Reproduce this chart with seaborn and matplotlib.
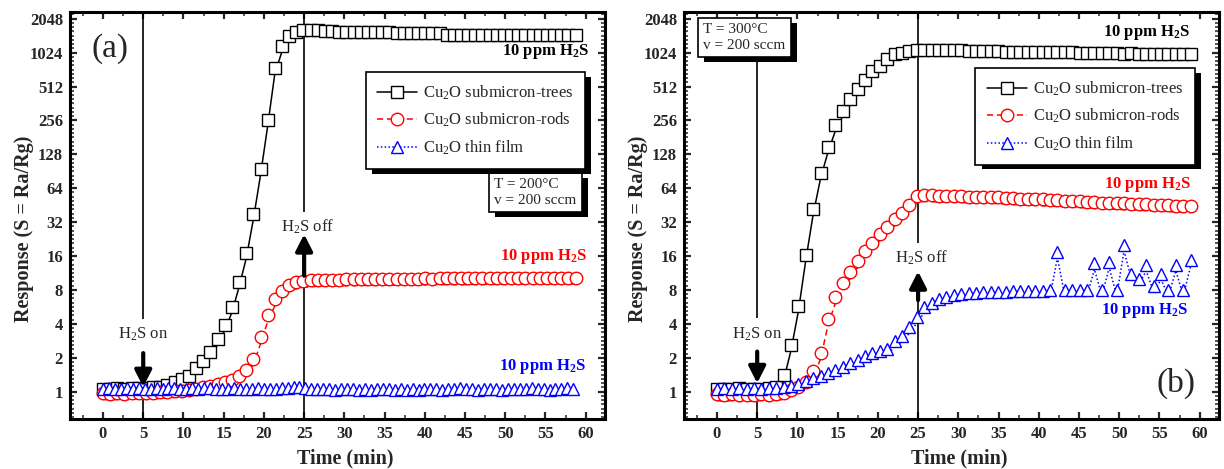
import matplotlib
matplotlib.use('Agg')
import matplotlib.pyplot as plt
import matplotlib.patheffects as pe
from matplotlib.lines import Line2D
from matplotlib.ticker import FixedLocator, FixedFormatter, MultipleLocator
from matplotlib.transforms import offset_copy
import numpy as np
import seaborn as sns

# sampling times (min)
time_a = np.arange(0, 59.0, 0.89)
time_film_a = np.arange(0, 59.0, 0.74)
time_b = np.arange(0, 59.5, 0.92)

# (a) T = 200 C
trees_a = [1.06, 1.05, 1.07, 1.06, 1.08, 1.07, 1.08, 1.09, 1.11,
           1.15, 1.21, 1.29, 1.38, 1.61, 1.89, 2.25, 2.93, 3.92, 5.66, 9.5, 17.1,
           38, 94, 256, 750, 1176, 1448, 1574, 1641, 1640, 1618,
           1590, 1580, 1575, 1575, 1570, 1570, 1565, 1565, 1560, 1555,
           1535, 1530, 1530, 1525, 1525, 1520, 1515,
           1475, 1470, 1470, 1468, 1470, 1466, 1468, 1465, 1465, 1462, 1465, 1460,
           1462, 1460, 1458, 1460, 1458, 1456, 1458]
rods_a = [0.97, 0.96, 0.97, 0.96, 0.97, 0.98, 0.97, 0.98, 0.99, 1.0, 1.01,
          1.02, 1.04, 1.06, 1.09, 1.13, 1.17, 1.23, 1.28, 1.39, 1.57, 1.97, 3.03,
          4.76, 6.59, 7.89, 8.88, 9.32, 9.58, 9.71,
          9.8, 9.85, 9.88, 9.9, 9.92, 9.95, 9.96, 9.98, 10.0, 10.0,
          10.05, 10.05, 10.08, 10.1, 10.1, 10.12, 10.1, 10.12, 10.15, 10.15, 10.12,
          10.15, 10.18, 10.15, 10.2, 10.18, 10.2, 10.22, 10.2, 10.25, 10.22, 10.25,
          10.28, 10.25, 10.3, 10.28, 10.3]
film_a = [1.06, 1.07, 1.05, 1.06, 1.08, 1.06, 1.07, 1.05, 1.06, 1.07,
          1.06, 1.08, 1.07, 1.06, 1.05, 1.07, 1.06, 1.08, 1.07, 1.06,
          1.05, 1.06, 1.07, 1.06, 1.05, 1.06, 1.07, 1.06, 1.05, 1.06,
          1.07, 1.08, 1.09, 1.10, 1.08, 1.06, 1.05, 1.06, 1.05, 1.04,
          1.05, 1.06, 1.05, 1.04, 1.05, 1.04, 1.05, 1.06, 1.05, 1.04,
          1.05, 1.04, 1.05, 1.04, 1.05, 1.06, 1.05, 1.04, 1.05, 1.06,
          1.07, 1.06, 1.05, 1.04, 1.05, 1.06, 1.05, 1.04, 1.05, 1.06,
          1.05, 1.06, 1.07, 1.06, 1.05, 1.04, 1.05, 1.06, 1.07, 1.06]

# (b) T = 300 C
trees_b = [1.05, 1.06, 1.05, 1.07, 1.06, 1.05, 1.06, 1.07,
           1.11, 1.41, 2.6, 5.8, 16.5, 42, 88, 150, 232, 313, 393, 488, 588, 700,
           781, 891, 996, 1024, 1060, 1082,
           1080, 1078, 1075, 1075, 1072, 1070, 1068, 1068, 1065, 1062, 1060,
           1040, 1040, 1038, 1038, 1036, 1036, 1035, 1035, 1034, 1034,
           1012, 1010, 1010, 1008, 1010, 1008, 1006, 1008, 1006, 1005, 1006, 1004,
           1005, 1004, 1003, 1004]
rods_b = [0.95, 0.93, 0.95, 0.93, 0.94, 0.93, 0.95, 0.93, 0.95, 0.97,
          1.04, 1.11, 1.23, 1.52, 2.22, 4.44, 6.96, 9.19, 11.5, 14.4, 17.8, 21.1,
          25.1, 29.2, 33.8, 38.9, 45.9, 54.2, 55.7,
          55.3, 55.0, 54.8, 54.6, 54.3, 54.0, 53.7, 53.5, 53.3, 53.2,
          52.5, 52.2, 51.8, 51.5, 51.2, 50.9, 50.5, 50.1, 49.8, 49.4, 49.0, 48.6,
          48.2, 47.8, 47.5, 47.2, 46.9, 46.6, 46.3, 46.0, 45.7, 45.4, 45.1, 44.8,
          44.5, 44.3]
film_b = [1.06, 1.07, 1.06, 1.07, 1.06, 1.07, 1.06, 1.07, 1.08,
          1.10, 1.13, 1.18, 1.25, 1.32, 1.39, 1.47, 1.57, 1.67, 1.79, 1.92, 2.06,
          2.2, 2.3, 2.38, 2.83, 3.14, 3.73, 4.59, 5.66, 6.15, 6.59, 6.96, 7.21,
          7.36, 7.46,
          7.57, 7.62, 7.67, 7.73, 7.73, 7.78, 7.84, 7.84, 7.89, 7.89,
          7.94, 17.5, 8.0, 8.0, 8.0, 8.0, 13.8, 8.0, 14.3, 8.0, 20.1, 11.2, 10.1,
          13.4, 8.6, 11.2, 8.0, 13.4, 8.0, 14.7]

series_names = ['Cu$_2$O submicron-trees', 'Cu$_2$O submicron-rods', 'Cu$_2$O thin film']
y_ticks = [1, 2, 4, 8, 16, 32, 64, 128, 256, 512, 1024, 2048]
x_ticks = [0, 5, 10, 15, 20, 25, 30, 35, 40, 45, 50, 55, 60]
gas_on, gas_off = 5, 25

styles = [
    dict(color='black', marker='s', ls='-', ms=8.0),
    dict(color='red', marker='o', ls=(0, (4, 2.5)), ms=9.0),
    dict(color='blue', marker='^', ls=(0, (1, 1.5)), ms=8.5),
]

sns.set_style('ticks')
plt.rcParams.update({
    'font.family': ['Liberation Serif', 'DejaVu Serif'],
    'mathtext.fontset': 'custom',
    'mathtext.rm': 'Liberation Serif',
    'mathtext.it': 'Liberation Serif:italic',
    'mathtext.bf': 'Liberation Serif:bold',
    'axes.linewidth': 2.2,
    'axes.edgecolor': 'black',
})

YLIM = (0.572, 2350)
XLIM = (-4.1, 62.4)


def shadow(offset=(4.5, -3.5)):
    return [pe.SimplePatchShadow(offset=offset, shadow_rgbFace='black', alpha=1), pe.Normal()]


def draw_series(ax, t, values, style, z):
    drop = offset_copy(ax.transData, fig=ax.figure, x=0, y=-style['ms'] / 2, units='points')
    sns.lineplot(x=t, y=values, ax=ax, color=style['color'], linestyle=style['ls'], lw=1.1,
                 transform=drop, zorder=z, legend=False, errorbar=None, sort=False)
    sns.lineplot(x=t, y=values, ax=ax, color=style['color'], linestyle='none',
                 marker=style['marker'], ms=style['ms'], mfc='white', mec=style['color'],
                 mew=1.0, zorder=z + 0.1, legend=False, errorbar=None, sort=False)


def gas_marker(ax, x, text, text_y, line_gap, arrow_from, arrow_to, dx=0.0):
    lo, hi = YLIM
    ax.vlines(x, line_gap, hi, color='black', lw=1.2, zorder=1)
    ax.vlines(x, lo, min(arrow_from, arrow_to), color='black', lw=1.2, zorder=1)
    ax.annotate('', xy=(x, arrow_to), xytext=(x, arrow_from),
                arrowprops=dict(arrowstyle='-|>,head_length=0.55,head_width=0.28', lw=3,
                                color='black', shrinkA=0, shrinkB=0, mutation_scale=18),
                zorder=5)
    ax.text(x + dx, text_y, text, ha='center', va='center', fontsize=12, zorder=5)


def setup_axes(ax):
    ax.set_yscale('log', base=2)
    ax.set_xlim(*XLIM)
    ax.set_ylim(*YLIM)
    ax.yaxis.set_major_locator(FixedLocator(y_ticks))
    ax.yaxis.set_major_formatter(FixedFormatter([str(v) for v in y_ticks]))
    minor = [2 ** (k + j / 8) for k in range(-1, 12) for j in range(1, 8)]
    ax.yaxis.set_minor_locator(FixedLocator(minor))
    ax.yaxis.set_minor_formatter(FixedFormatter([''] * len(minor)))
    ax.xaxis.set_major_locator(FixedLocator(x_ticks))
    ax.xaxis.set_minor_locator(MultipleLocator(2.5))
    ax.tick_params(which='major', direction='in', length=5, width=1.6, top=True,
                   right=True, labelsize=12, pad=5)
    ax.tick_params(which='minor', direction='in', length=2.8, width=1.1, top=True, right=True)
    for lbl in ax.get_xticklabels() + ax.get_yticklabels():
        lbl.set_fontweight('bold')
    ax.set_xlabel('Time (min)', fontsize=14.5, fontweight='bold')
    ax.set_ylabel('Response (S = Ra/Rg)', fontsize=14.5, fontweight='bold')
    ax.xaxis.set_label_coords(0.514, -0.072)
    ax.yaxis.set_label_coords(-0.068, 0.467)
    for sp in ax.spines.values():
        sp.set_linewidth(2.2)


def add_legend(ax, anchor):
    handles = [Line2D([], [], color=s['color'], ls=s['ls'], lw=1.1, marker=s['marker'],
                      ms=s['ms'], mfc='white', mec=s['color'], mew=1.0) for s in styles]
    leg = ax.legend(handles, series_names, loc='upper right', bbox_to_anchor=anchor,
                    fontsize=12, frameon=True, fancybox=False, edgecolor='black',
                    framealpha=1, borderpad=0.7, labelspacing=0.55, handlelength=2.4,
                    handletextpad=0.35, borderaxespad=0)
    leg.get_frame().set_linewidth(1.2)
    leg.get_frame().set_path_effects(shadow())
    leg.set_zorder(10)


def cond_box(ax, x, y, text):
    t = ax.text(x, y, text, transform=ax.transAxes, ha='left', va='top', fontsize=11,
                linespacing=1.25, zorder=10,
                bbox=dict(boxstyle='square,pad=0.35', fc='white', ec='black', lw=1.2))
    t.get_bbox_patch().set_path_effects(shadow())


fig = plt.figure(figsize=(12.24, 4.69), dpi=100)
ax_a = fig.add_axes([0.0572, 0.1066, 0.4371, 0.8678])
ax_b = fig.add_axes([0.5588, 0.1066, 0.4371, 0.8678])

# ---- panel (a)
ax_a.set_yscale('log', base=2)
for z, (t, v, s) in enumerate(zip([time_a, time_a, time_film_a],
                                  [trees_a, rods_a, film_a], styles)):
    draw_series(ax_a, t, v, s, 2 + z * 0.2)
setup_axes(ax_a)
gas_marker(ax_a, gas_on, 'H$_2$S on', 3.2, 4.4, 2.2, 1.1)
gas_marker(ax_a, gas_off, 'H$_2$S off', 29, 39.4, 10.7, 25, dx=0.4)
add_legend(ax_a, (0.963, 0.853))
cond_box(ax_a, 0.793, 0.591, 'T = 200°C\nv = 200 sccm')
ax_a.text(0.075, 0.91, '(a)', transform=ax_a.transAxes, ha='center', va='center', fontsize=24)
ax_a.text(60.4, 1050, '10 ppm H$_\\mathbf{2}$S', ha='right', va='center', fontsize=12,
          fontweight='bold', color='black')
ax_a.text(60.2, 16, '10 ppm H$_\\mathbf{2}$S', ha='right', va='center', fontsize=12,
          fontweight='bold', color='red')
ax_a.text(60.0, 1.67, '10 ppm H$_\\mathbf{2}$S', ha='right', va='center', fontsize=12,
          fontweight='bold', color='blue')

# ---- panel (b)
ax_b.set_yscale('log', base=2)
for z, (v, s) in enumerate(zip([trees_b, rods_b, film_b], styles)):
    draw_series(ax_b, time_b, v, s, 2 + z * 0.2)
setup_axes(ax_b)
gas_marker(ax_b, gas_on, 'H$_2$S on', 3.2, 4.5, 2.27, 1.19)
gas_marker(ax_b, gas_off, 'H$_2$S off', 15.4, 20.9, 6.5, 11.7, dx=0.4)
add_legend(ax_b, (0.955, 0.863))
cond_box(ax_b, 0.0355, 0.9725, 'T = 300°C\nv = 200 sccm')
ax_b.text(0.92, 0.087, '(b)', transform=ax_b.transAxes, ha='center', va='center', fontsize=24)
ax_b.text(58.8, 1550, '10 ppm H$_\\mathbf{2}$S', ha='right', va='center', fontsize=12,
          fontweight='bold', color='black')
ax_b.text(59.0, 69, '10 ppm H$_\\mathbf{2}$S', ha='right', va='center', fontsize=12,
          fontweight='bold', color='red')
ax_b.text(58.6, 5.3, '10 ppm H$_\\mathbf{2}$S', ha='right', va='center', fontsize=12,
          fontweight='bold', color='blue')

fig.savefig('out.png', dpi=100)
